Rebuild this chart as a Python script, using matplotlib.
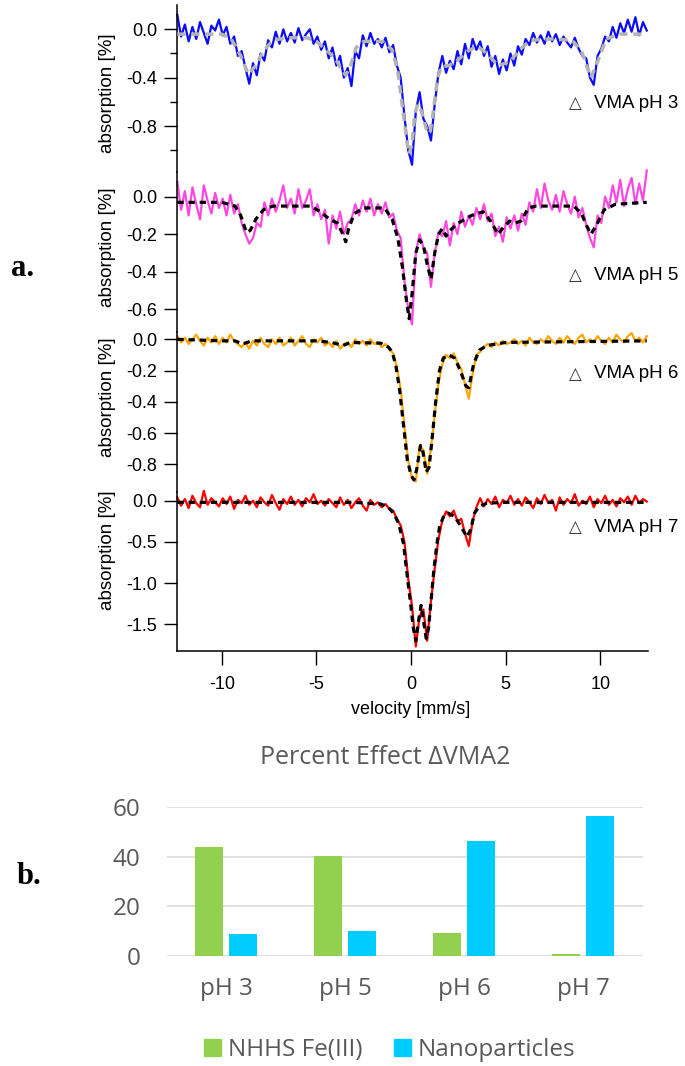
import numpy as np
import matplotlib
matplotlib.use("Agg")
import matplotlib.pyplot as plt
from matplotlib.patches import Patch

plt.rcParams['font.family'] = ['Liberation Sans', 'DejaVu Sans']
plt.rcParams['axes.unicode_minus'] = False

# ---------------- a. Moessbauer spectra, absorption [%] ----------------
# measured channels, equally spaced over the velocity sweep
vel_start, vel_end = -12.35, 12.45

ph3_data = [0.12, -0.06, 0.04, -0.10, 0.02, -0.08, 0.06, -0.03, -0.12, 0.03,
            -0.01, 0.08, -0.05, 0.02, -0.12, -0.06, -0.22, -0.18, -0.32, -0.45,
            -0.28, -0.38, -0.20, -0.26, -0.09, -0.15, -0.02, -0.12, 0.00, -0.10,
            -0.03, -0.11, 0.01, -0.09, -0.04, 0.00, -0.12, -0.06, -0.17, -0.10,
            -0.24, -0.15, -0.30, -0.22, -0.40, -0.32, -0.47, -0.18, -0.24, -0.05,
            -0.14, -0.03, -0.12, -0.08, -0.15, -0.07, -0.19, -0.13, -0.30, -0.40,
            -0.72, -1.00, -1.12, -0.68, -0.52, -0.74, -0.80, -0.92, -0.62, -0.36,
            -0.22, -0.36, -0.26, -0.33, -0.18, -0.29, -0.12, -0.24, -0.08, -0.17,
            -0.10, -0.22, -0.14, -0.31, -0.22, -0.37, -0.25, -0.34, -0.20, -0.30,
            -0.14, -0.21, -0.08, -0.13, -0.03, -0.11, -0.05, -0.12, -0.02, -0.10,
            -0.04, -0.13, -0.06, -0.11, -0.15, -0.07, -0.16, -0.22, -0.24, -0.40,
            -0.46, -0.22, -0.16, -0.06, -0.10, 0.02, -0.07, 0.05, -0.03, 0.08,
            -0.02, 0.10, -0.05, 0.06, -0.01]
ph3_fit_v = [-12.35, -10.0, -9.5, -9.0, -8.6, -8.2, -7.8, -7.3, -6.5, -5.5, -5.0, -4.5,
             -4.0, -3.7, -3.45, -3.2, -2.9, -2.5, -1.5, -1.0, -0.7, -0.45, -0.2, -0.1,
             0.05, 0.2, 0.35, 0.55, 0.8, 1.0, 1.2, 1.4, 1.6, 2.0, 2.5, 3.0, 3.5, 4.0,
             4.6, 5.2, 5.8, 6.3, 7.5, 8.5, 9.0, 9.5, 9.9, 10.3, 11.0, 12.45]
ph3_fit = [-0.04, -0.04, -0.08, -0.22, -0.37, -0.30, -0.18, -0.09, -0.07, -0.07, -0.10, -0.17,
           -0.24, -0.33, -0.38, -0.30, -0.15, -0.10, -0.10, -0.17, -0.35, -0.65, -0.95, -1.03,
           -0.95, -0.70, -0.62, -0.68, -0.82, -0.86, -0.65, -0.40, -0.31, -0.30, -0.25, -0.18,
           -0.14, -0.20, -0.30, -0.27, -0.16, -0.09, -0.08, -0.09, -0.18, -0.40, -0.25, -0.08,
           -0.04, -0.04]

ph5_data = [0.08, -0.07, 0.03, -0.10, 0.05, -0.04, -0.12, 0.06, -0.02, -0.09,
            0.02, -0.06, -0.01, -0.10, 0.01, -0.09, -0.04, -0.14, -0.20, -0.25,
            -0.22, -0.14, -0.16, -0.03, -0.10, -0.01, -0.08, -0.02, 0.06, -0.06,
            -0.01, -0.09, 0.04, -0.06, -0.02, 0.04, -0.10, -0.04, -0.12, -0.07,
            -0.25, -0.10, -0.17, -0.08, -0.20, -0.14, -0.12, -0.04, -0.10, -0.02,
            -0.08, -0.01, -0.10, -0.04, -0.09, -0.03, -0.11, -0.09, -0.18, -0.22,
            -0.45, -0.60, -0.68, -0.30, -0.20, -0.27, -0.30, -0.48, -0.30, -0.19,
            -0.21, -0.13, -0.26, -0.14, -0.20, -0.08, -0.16, -0.10, -0.15, -0.06,
            -0.12, -0.04, -0.13, -0.09, -0.21, -0.16, -0.24, -0.11, -0.17, -0.10,
            -0.18, -0.09, -0.15, -0.03, -0.08, 0.04, -0.06, 0.07, -0.02, -0.07,
            0.01, -0.08, 0.03, -0.04, -0.09, 0.00, -0.11, -0.06, -0.15, -0.22,
            -0.27, -0.10, -0.14, 0.00, -0.06, 0.06, -0.03, 0.09, -0.05, 0.04,
            0.10, -0.04, 0.07, -0.02, 0.14]
ph5_fit_v = [-12.35, -10.0, -9.3, -9.0, -8.7, -8.5, -8.2, -7.8, -7.3, -5.3, -4.8, -4.3,
             -3.9, -3.6, -3.45, -3.3, -3.0, -2.5, -1.4, -1.0, -0.7, -0.45, -0.25, -0.1,
             0.05, 0.25, 0.45, 0.65, 0.85, 1.05, 1.25, 1.45, 1.65, 1.85, 2.05, 2.5, 3.2,
             3.8, 4.2, 4.6, 4.9, 5.2, 5.5, 5.8, 6.2, 6.6, 8.6, 9.0, 9.3, 9.5, 9.8, 10.2,
             10.8, 12.45]
ph5_fit = [-0.03, -0.03, -0.05, -0.10, -0.19, -0.18, -0.12, -0.07, -0.05, -0.05, -0.08, -0.12,
           -0.14, -0.20, -0.24, -0.17, -0.09, -0.06, -0.06, -0.12, -0.22, -0.38, -0.55, -0.65,
           -0.52, -0.30, -0.23, -0.26, -0.36, -0.44, -0.30, -0.20, -0.17, -0.21, -0.18, -0.14,
           -0.10, -0.08, -0.13, -0.20, -0.16, -0.13, -0.14, -0.13, -0.06, -0.05, -0.05, -0.09,
           -0.16, -0.20, -0.15, -0.07, -0.04, -0.03]

ph6_data = [0.02, -0.02, 0.01, -0.03, 0.00, 0.03, -0.01, -0.04, 0.01, -0.02,
            0.02, -0.03, 0.01, -0.02, 0.03, -0.01, -0.03, -0.05, -0.02, -0.06,
            -0.01, -0.04, 0.01, -0.03, -0.05, 0.00, -0.03, 0.01, -0.04, -0.02,
            0.01, -0.04, -0.01, 0.02, -0.03, -0.05, 0.00, -0.02, 0.01, -0.04,
            -0.02, -0.05, -0.01, -0.06, -0.03, -0.02, -0.05, 0.00, -0.03, -0.01,
            -0.04, 0.00, -0.03, -0.02, -0.05, -0.03, -0.06, -0.09, -0.18, -0.32,
            -0.56, -0.78, -0.89, -0.91, -0.68, -0.71, -0.86, -0.70, -0.48, -0.28,
            -0.16, -0.10, -0.12, -0.09, -0.15, -0.19, -0.29, -0.38, -0.22, -0.10,
            -0.08, -0.05, -0.03, -0.05, -0.02, -0.04, -0.01, -0.03, -0.02, 0.00,
            -0.03, -0.01, -0.04, 0.01, -0.02, -0.03, 0.00, -0.02, 0.02, -0.01,
            -0.03, 0.01, -0.02, 0.02, -0.01, -0.03, 0.01, 0.03, -0.02, 0.00,
            -0.02, 0.02, -0.01, -0.03, 0.01, -0.02, 0.03, 0.00, -0.02, 0.02,
            0.04, -0.01, 0.01, -0.02, 0.02]
ph6_fit_v = [-12.35, -10.0, -9.3, -8.9, -8.4, -5.0, -4.2, -3.6, -3.2, -1.6, -1.2, -1.0,
             -0.8, -0.6, -0.4, -0.2, 0.0, 0.15, 0.3, 0.5, 0.6, 0.8, 0.95, 1.1, 1.3, 1.5,
             1.7, 2.0, 2.3, 2.6, 2.9, 3.05, 3.3, 3.6, 4.0, 5.0, 12.45]
ph6_fit = [0.0, -0.01, -0.01, -0.03, -0.01, -0.01, -0.02, -0.04, -0.02, -0.025, -0.05, -0.08,
           -0.17, -0.33, -0.55, -0.77, -0.87, -0.90, -0.83, -0.68, -0.70, -0.85, -0.82, -0.65,
           -0.40, -0.20, -0.12, -0.10, -0.12, -0.20, -0.30, -0.31, -0.16, -0.07, -0.04, -0.02,
           -0.01]

ph7_data = [0.04, -0.06, 0.02, -0.09, 0.06, -0.03, -0.08, 0.12, -0.05, 0.03,
            -0.02, -0.07, 0.03, -0.04, 0.05, -0.10, 0.01, -0.03, 0.06, -0.05,
            0.00, -0.08, 0.04, -0.02, -0.06, 0.07, -0.03, -0.11, 0.02, -0.04,
            0.05, -0.05, 0.01, -0.07, 0.03, -0.02, 0.08, -0.04, 0.00, -0.06,
            0.02, -0.03, -0.08, 0.04, -0.05, 0.01, -0.09, -0.02, 0.03, -0.06,
            -0.12, 0.01, -0.05, -0.02, -0.08, -0.04, -0.10, -0.12, -0.22, -0.30,
            -0.50, -0.95, -1.28, -1.77, -1.40, -1.32, -1.70, -1.22, -0.82, -0.46,
            -0.24, -0.13, -0.19, -0.12, -0.25, -0.22, -0.40, -0.55, -0.25, -0.08,
            0.03, -0.07, 0.02, -0.04, 0.05, -0.08, 0.01, -0.03, 0.06, -0.05,
            0.02, -0.06, 0.04, -0.02, -0.09, 0.03, -0.04, 0.07, -0.03, 0.01,
            -0.12, 0.04, -0.05, 0.02, -0.03, 0.08, -0.06, 0.00, -0.04, 0.05,
            -0.08, 0.02, -0.03, 0.06, -0.05, 0.01, -0.07, 0.03, -0.02, 0.05,
            -0.05, 0.06, -0.03, 0.02, -0.01]
ph7_fit_v = [-12.35, -3.0, -1.6, -1.2, -0.9, -0.65, -0.4, -0.2, 0.0, 0.12, 0.25, 0.4,
             0.53, 0.65, 0.8, 0.92, 1.06, 1.2, 1.35, 1.5, 1.7, 1.95, 2.3, 2.6, 2.95,
             3.15, 3.35, 3.6, 4.0, 5.0, 12.45]
ph7_fit = [-0.02, -0.02, -0.04, -0.08, -0.16, -0.28, -0.52, -0.92, -1.30, -1.55, -1.70, -1.45,
           -1.27, -1.45, -1.67, -1.55, -1.20, -0.85, -0.55, -0.32, -0.20, -0.15, -0.19, -0.30,
           -0.44, -0.35, -0.15, -0.07, -0.03, -0.02, -0.02]

# ---------------- b. bar chart ----------------
categories = ['pH 3', 'pH 5', 'pH 6', 'pH 7']
nhhs_fe3 = [44.0, 40.5, 9.3, 0.7]
nanoparticles = [8.8, 10.1, 46.2, 56.3]

W, H = 685, 1066
fig = plt.figure(figsize=(W / 100, H / 100), dpi=100)


def box(l, t, r, b):
    # pixel box (from top-left) -> figure fraction rect
    return [l / W, 1 - b / H, (r - l) / W, (b - t) / H]


x_left, x_right = 177.3, 647.7
panels = [
    # data, fit v, fit, colour, fit colour, label, top px, bottom px, zero px, px per unit, ticks, minor, label y, ylabel y
    (ph3_data, ph3_fit_v, ph3_fit, '#0a0aff', '#b4b4b4', 'VMA pH 3', 5, 172, 29.3, 120.9,
     [0.0, -0.4, -0.8], [-0.2, -0.6, -1.0], 103, 93),
    (ph5_data, ph5_fit_v, ph5_fit, '#ff48e0', 'black', 'VMA pH 5', 172, 332, 196.7, 187.7,
     [0.0, -0.2, -0.4, -0.6], [], 275, 247),
    (ph6_data, ph6_fit_v, ph6_fit, '#ffa500', 'black', 'VMA pH 6', 332, 492, 339.3, 156.25,
     [0.0, -0.2, -0.4, -0.6, -0.8], [], 374, 397),
    (ph7_data, ph7_fit_v, ph7_fit, '#ff0000', 'black', 'VMA pH 7', 492, 650.7, 500.7, 82.4,
     [0.0, -0.5, -1.0, -1.5], [], 527, 550),
]

for k, (data, fv, fy, col, fcol, lab, top, bot, zero, ppu, ticks, minor, ly, yly) in enumerate(panels):
    ax = fig.add_axes(box(x_left, top, x_right, bot))
    ax.patch.set_alpha(0)
    v = np.linspace(vel_start, vel_end, len(data))
    ax.plot(v, data, color=col, lw=1.6, clip_on=False, zorder=2)
    if fcol == 'black':
        ax.plot(fv, fy, color=fcol, lw=2.3, ls=(0, (2.0, 1.5)), clip_on=False, zorder=3)
    else:
        ax.plot(fv, fy, color=fcol, lw=2.5, ls=(0, (2.4, 1.6)), clip_on=False, zorder=3)
    ax.set_xlim(vel_start, 12.5)
    ax.set_ylim(-(bot - zero) / ppu, (zero - top) / ppu)
    ax.set_yticks(ticks)
    ax.set_yticklabels(['%.1f' % t for t in ticks])
    if minor:
        ax.set_yticks(minor, minor=True)
    ax.tick_params(axis='y', which='major', direction='out', length=9.5, width=1.0, labelsize=13, pad=5)
    ax.tick_params(axis='y', which='minor', direction='out', length=5, width=1.0)
    for s in ['top', 'right']:
        ax.spines[s].set_visible(False)
    ax.spines['left'].set_linewidth(1.1)
    if k < 3:
        ax.spines['bottom'].set_visible(False)
        ax.set_xticks([])
    else:
        ax.spines['bottom'].set_linewidth(1.1)
        ax.set_xticks([-10, -5, 0, 5, 10])
        ax.tick_params(axis='x', direction='out', length=10, width=1.0, labelsize=13, pad=8)
    fig.text(107 / W, 1 - yly / H, 'absorption [%]', rotation=90, ha='center', va='center', fontsize=13.5)
    fig.text(575 / W, 1 - ly / H, '\u25b3', ha='center', va='center', fontsize=12,
             color='#333333', family='DejaVu Sans')
    fig.text(594 / W, 1 - ly / H, lab, ha='left', va='center', fontsize=13.5)

fig.text(411 / W, 1 - 710 / H, 'velocity [mm/s]', ha='center', va='center', fontsize=13)
fig.text(23 / W, 1 - 269 / H, 'a.', ha='center', va='center', fontsize=22,
         fontweight='bold', family='Liberation Serif')
fig.text(29 / W, 1 - 877 / H, 'b.', ha='center', va='center', fontsize=22,
         fontweight='bold', family='Liberation Serif')

# bar chart (Excel style)
green, blue, grey = '#92D050', '#00CCFF', '#595959'
fam = ['Open Sans', 'DejaVu Sans']
axb = fig.add_axes(box(166.7, 807.3, 642.7, 955.7))
xb = np.arange(len(categories))
w = 0.236
axb.bar(xb - 0.142, nhhs_fe3, w, color=green, zorder=3)
axb.bar(xb + 0.142, nanoparticles, w, color=blue, zorder=3)
axb.set_xlim(-0.5, 3.5)
axb.set_ylim(0, 60)
axb.set_yticks([0, 20, 40, 60])
axb.set_xticks(xb)
axb.set_xticklabels(categories)
axb.grid(axis='y', color='#D9D9D9', lw=1.1, zorder=0)
axb.set_axisbelow(True)
for s in axb.spines.values():
    s.set_visible(False)
axb.tick_params(axis='both', length=0, labelsize=17.5, labelcolor=grey)
axb.tick_params(axis='y', pad=19)
axb.tick_params(axis='x', pad=15)
for t in axb.get_xticklabels() + axb.get_yticklabels():
    t.set_family(fam)

fig.text(385 / W, 1 - 758 / H, 'Percent Effect \u0394VMA2', ha='center', va='center',
         fontsize=18, color=grey, family=fam)
fig.legend(handles=[Patch(color=green), Patch(color=blue)],
           labels=['NHHS Fe(III)', 'Nanoparticles'],
           loc='center', bbox_to_anchor=(390 / W, 1 - 1050 / H), ncol=2, frameon=False,
           handlelength=0.68, handleheight=0.68, handletextpad=0.3, columnspacing=1.3,
           labelcolor=grey, prop={'family': fam, 'size': 17.5})

fig.savefig('out.png', dpi=100)
